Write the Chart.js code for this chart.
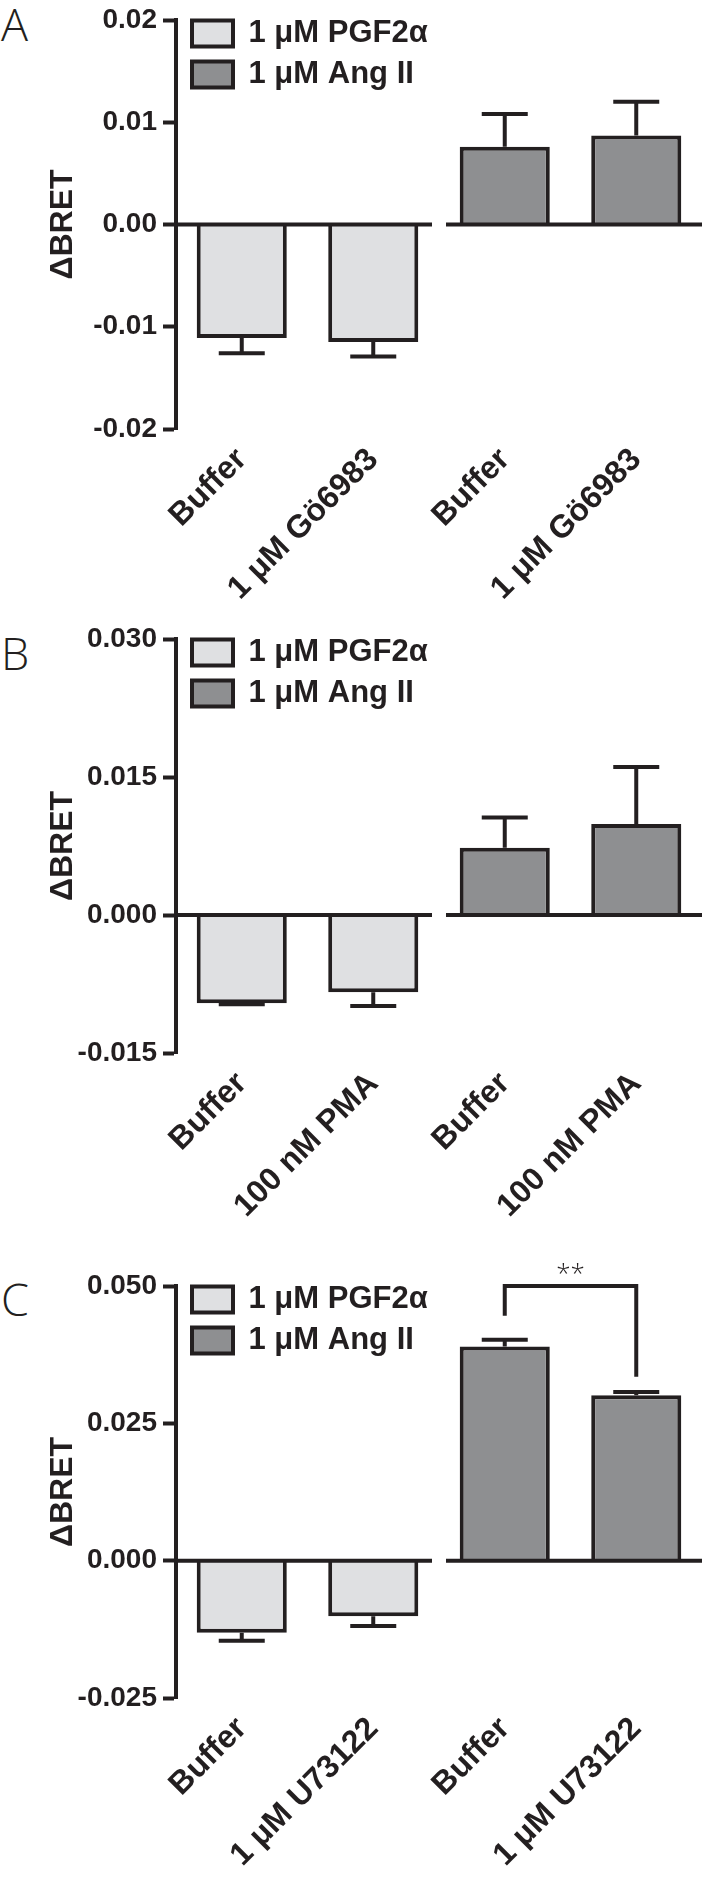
<!DOCTYPE html>
<html>
<head>
<meta charset="utf-8">
<script src="https://cdn.jsdelivr.net/npm/chart.js@4.4.1/dist/chart.umd.min.js"></script>
<style>
    body { margin: 0; background: #ffffff; width: 702px; height: 1884px; position: relative; overflow: hidden; }
    canvas { position: absolute; left: 0; }
    .letter { position: absolute; left: 1px; font-family: "Open Sans", sans-serif; font-weight: 300; font-size: 45px; line-height: 45px; color: #231f20; }
</style>
</head>
<body>
<div class="letter" style="top:1px">A</div>
<div class="letter" style="top:630px">B</div>
<div class="letter" style="top:1276px">C</div>
<canvas id="chart_a" width="702" height="610" style="top:0px"></canvas>
<canvas id="chart_b" width="702" height="640" style="top:585px"></canvas>
<canvas id="chart_c" width="702" height="694" style="top:1190px"></canvas>
<script>
const ink = "#231f20";
const pgf_colour = "#dfe0e2";
const ang_colour = "#8e8f91";
const font_family = "'Liberation Sans', Arial, sans-serif";

const series_names = ["1 μM PGF2α", "1 μM Ang II"];
const y_title = "ΔBRET";

// panel A
const categories_a = ["Buffer", "1 μM Gö6983", "Buffer", "1 μM Gö6983"];
const pgf_a = [-0.0111, -0.0115, null, null];
const pgf_err_a = [0.0015, 0.0014, null, null];
const ang_a = [null, null, 0.0076, 0.0087];
const ang_err_a = [null, null, 0.0032, 0.0033];
const y_ticks_a = [-0.02, -0.01, 0, 0.01, 0.02];
const y_tick_labels_a = ["-0.02", "-0.01", "0.00", "0.01", "0.02"];

// panel B
const categories_b = ["Buffer", "100 nM PMA", "Buffer", "100 nM PMA"];
const pgf_b = [-0.0096, -0.0084, null, null];
const pgf_err_b = [0.0001, 0.0015, null, null];
const ang_b = [null, null, 0.0073, 0.0099];
const ang_err_b = [null, null, 0.0033, 0.0062];
const y_ticks_b = [-0.015, 0, 0.015, 0.03];
const y_tick_labels_b = ["-0.015", "0.000", "0.015", "0.030"];

// panel C
const categories_c = ["Buffer", "1 μM U73122", "Buffer", "1 μM U73122"];
const pgf_c = [-0.0131, -0.0101, null, null];
const pgf_err_c = [0.0015, 0.0018, null, null];
const ang_c = [null, null, 0.0390, 0.0301];
const ang_err_c = [null, null, 0.0012, 0.0006];
const y_ticks_c = [-0.025, 0, 0.025, 0.05];
const y_tick_labels_c = ["-0.025", "0.000", "0.025", "0.050"];
const bracket_c = [2, 3];
const bracket_levels_c = [0.0446, 0.05, 0.0335];
const bracket_text_c = "**";

// x axis line broken between the two groups
const split_zero_line = {
    id: "split_zero_line",
    afterDatasetsDraw(chart) {
        let ctx = chart.ctx;
        let x_scale = chart.scales.x;
        let y = chart.scales.y.getPixelForValue(0);
        let mid = (x_scale.getPixelForValue(1) + x_scale.getPixelForValue(2)) / 2;
        ctx.save();
        ctx.strokeStyle = ink;
        ctx.lineWidth = 4;
        ctx.beginPath();
        ctx.moveTo(chart.chartArea.left, y);
        ctx.lineTo(mid - 7, y);
        ctx.moveTo(mid + 7, y);
        ctx.lineTo(chart.chartArea.right, y);
        ctx.stroke();
        ctx.restore();
    }
};

const error_bars = {
    id: "error_bars",
    afterDatasetsDraw(chart) {
        let ctx = chart.ctx;
        let y_scale = chart.scales.y;
        ctx.save();
        ctx.strokeStyle = ink;
        ctx.lineWidth = 4;
        chart.data.datasets.forEach(function(dataset, d){
            let meta = chart.getDatasetMeta(d);
            dataset.errors.forEach(function(err, i){
                let value = dataset.data[i];
                if(err == null || value == null){
                    return;
                }
                let x = meta.data[i].x;
                let y_start = y_scale.getPixelForValue(value);
                let y_end = y_scale.getPixelForValue(value + Math.sign(value) * err);
                ctx.beginPath();
                ctx.moveTo(x, y_start);
                ctx.lineTo(x, y_end);
                ctx.moveTo(x - 23, y_end);
                ctx.lineTo(x + 23, y_end);
                ctx.stroke();
            });
        });
        ctx.restore();
    }
};

// a vertical chartArea legend gets top = 0, so pin it just above the plot
const legend_nudge = {
    id: "legend_nudge",
    afterLayout(chart) {
        chart.legend.top = chart.chartArea.top - 12;
        chart.legend.left = chart.chartArea.left + 6;
    }
};

function makeBracket(pair, levels, text){
    return {
        id: "bracket",
        afterDraw(chart) {
            let ctx = chart.ctx;
            let x_scale = chart.scales.x;
            let y_scale = chart.scales.y;
            let x1 = x_scale.getPixelForValue(pair[0]);
            let x2 = x_scale.getPixelForValue(pair[1]);
            let y_top = y_scale.getPixelForValue(levels[1]);
            ctx.save();
            ctx.strokeStyle = ink;
            ctx.lineWidth = 4;
            ctx.beginPath();
            ctx.moveTo(x1, y_scale.getPixelForValue(levels[0]));
            ctx.lineTo(x1, y_top);
            ctx.lineTo(x2, y_top);
            ctx.lineTo(x2, y_scale.getPixelForValue(levels[2]));
            ctx.stroke();
            ctx.fillStyle = ink;
            ctx.font = "300 26px 'Open Sans', sans-serif";
            ctx.textAlign = "center";
            ctx.textBaseline = "alphabetic";
            ctx.fillText(text, (x1 + x2) / 2, y_top - 4);
            ctx.restore();
        }
    };
}

function drawPanel(canvas_id, categories, pgf, pgf_err, ang, ang_err, y_ticks, y_tick_labels, top_padding, x_axis_height, extra_plugins){
    let context = document.getElementById(canvas_id).getContext("2d");
    let bar_data = {
        labels: categories,
        datasets: [{
            label: series_names[0],
            data: pgf,
            errors: pgf_err,
            backgroundColor: pgf_colour,
            borderColor: ink,
            borderWidth: 4
        },{
            label: series_names[1],
            data: ang,
            errors: ang_err,
            backgroundColor: ang_colour,
            borderColor: ink,
            borderWidth: 4
        }]
    };

    let bar_options = {
        responsive: false,
        animation: false,
        grouped: false,
        barPercentage: 0.685,
        categoryPercentage: 1,
        layout: {
            padding: { top: top_padding, left: 0, right: 0, bottom: 0 }
        },
        plugins: {
            tooltip: { enabled: false },
            legend: {
                position: "chartArea",
                align: "start",
                labels: {
                    boxWidth: 41,
                    boxHeight: 26,
                    padding: 10,
                    color: ink,
                    font: { family: font_family, size: 31, weight: "bold" }
                }
            }
        },
        scales: {
            x: {
                grid: { display: false, drawTicks: false },
                border: { display: false },
                ticks: {
                    color: ink,
                    font: { family: font_family, size: 32, weight: "bold" },
                    minRotation: 45,
                    maxRotation: 45,
                    autoSkip: false,
                    padding: 12
                },
                afterFit: function(scale){ scale.height = x_axis_height; }
            },
            y: {
                min: y_ticks[0],
                max: y_ticks[y_ticks.length - 1],
                afterBuildTicks: function(scale){
                    scale.ticks = y_ticks.map(value => ({ value: value }));
                },
                ticks: {
                    color: ink,
                    padding: 6,
                    font: { family: font_family, size: 28, weight: "bold", lineHeight: 1 },
                    callback: function(value, index){ return y_tick_labels[index]; }
                },
                grid: {
                    drawOnChartArea: false,
                    drawTicks: true,
                    tickLength: 13,
                    tickWidth: 4,
                    color: ink
                },
                border: { display: true, width: 4, color: ink },
                title: {
                    display: true,
                    text: y_title,
                    color: ink,
                    font: { family: font_family, size: 32, weight: "bold" },
                    padding: { top: 44, bottom: 0 }
                },
                afterFit: function(scale){ scale.width = 176; }
            }
        }
    };

    return new Chart(context, {
        type: "bar",
        data: bar_data,
        options: bar_options,
        plugins: [legend_nudge, split_zero_line, error_bars].concat(extra_plugins)
    });
}

drawPanel("chart_a", categories_a, pgf_a, pgf_err_a, ang_a, ang_err_a, y_ticks_a, y_tick_labels_a, 16, 181, []);
drawPanel("chart_b", categories_b, pgf_b, pgf_err_b, ang_b, ang_err_b, y_ticks_b, y_tick_labels_b, 54, 172, []);
drawPanel("chart_c", categories_c, pgf_c, pgf_err_c, ang_c, ang_err_c, y_ticks_c, y_tick_labels_c, 96, 186,
    [makeBracket(bracket_c, bracket_levels_c, bracket_text_c)]);
</script>
</body>
</html>
